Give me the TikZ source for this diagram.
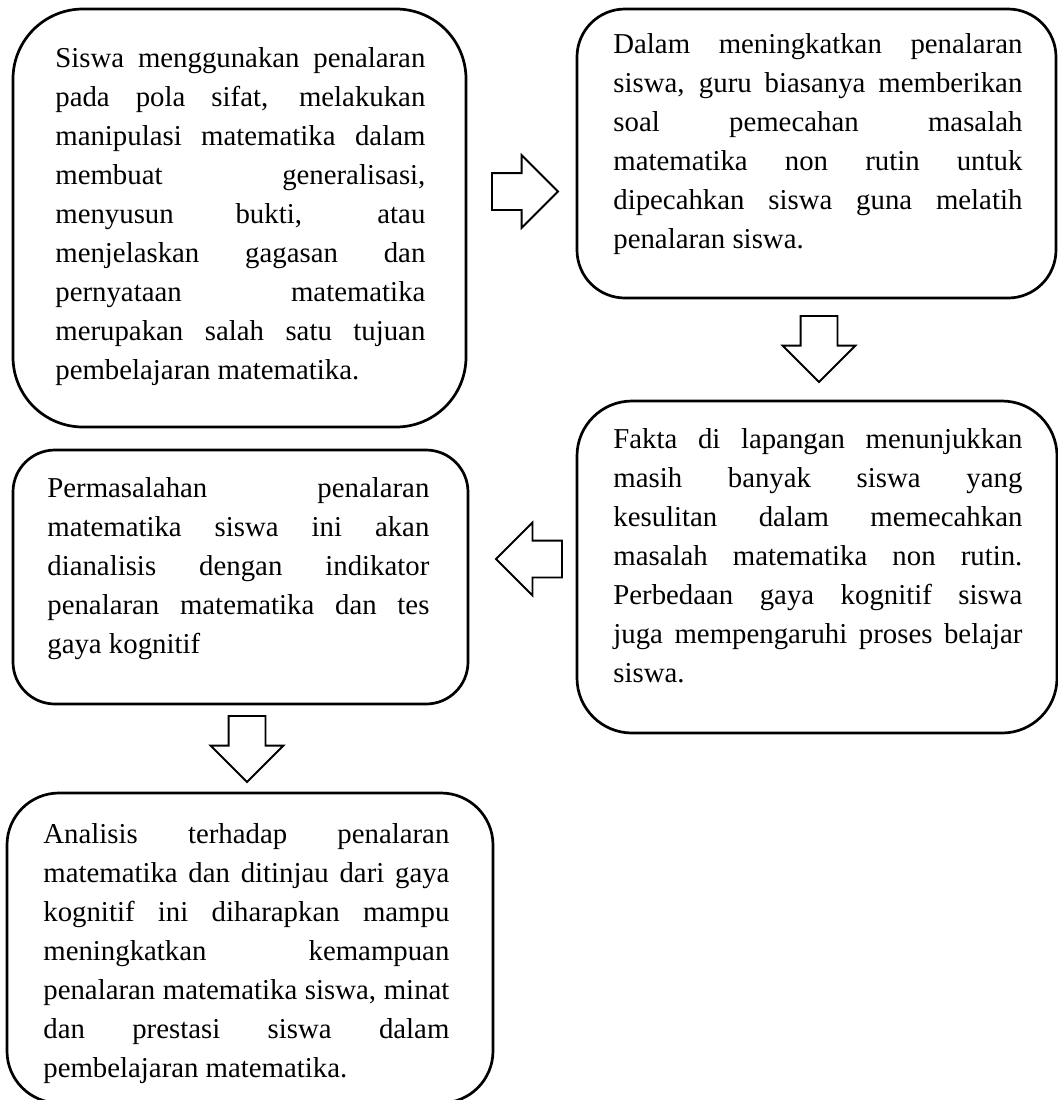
\documentclass[tikz,border=0pt]{standalone}
\usepackage{fontspec}
\setmainfont{Liberation Serif}
\usetikzlibrary{shapes.arrows}
\definecolor{Ink}{HTML}{000000}
\tolerance=10000
\hbadness=10000
\hyphenpenalty=10000

\begin{document}
\begin{tikzpicture}[x=0.5pt,y=-0.5pt,
  panel/.style={draw=Ink,line width=1.35pt,inner sep=0pt},
  txt/.style={anchor=base west,inner sep=0pt,align=justify,text=Ink,
    font=\fontsize{14.4pt}{19.5pt}\selectfont},
  blockarrow/.style={single arrow,draw=Ink,line width=0.9pt,fill=white,
    inner xsep=0pt,inner ysep=8.75pt,minimum height=33pt,minimum width=35.5pt,
    single arrow head extend=9pt,outer sep=0pt,anchor=tip}]
\useasboundingbox (0,0) rectangle (1058,1100);
% boxes
\node[panel,rounded corners=35pt,minimum width=226.5pt,minimum height=209pt] (b1) at (239.5,218) {};
\node[panel,rounded corners=24pt,minimum width=239.5pt,minimum height=144.5pt] (b2) at (816.5,153.5) {};
\node[panel,rounded corners=27.5pt,minimum width=240pt,minimum height=166pt] (b3) at (817,567) {};
\node[panel,rounded corners=21pt,minimum width=227.5pt,minimum height=127pt] (b4) at (240.5,577) {};
\node[panel,rounded corners=26pt,minimum width=243pt,minimum height=155pt] (b5) at (250,948) {};
% texts
\node[txt,text width=185pt] (t1) at (55,67) {Siswa menggunakan penalaran\linebreak
pada pola sifat, melakukan\linebreak
manipulasi matematika dalam\linebreak
membuat generalisasi,\linebreak
menyusun bukti, atau\linebreak
menjelaskan gagasan dan\linebreak
pernyataan matematika\linebreak
merupakan salah satu tujuan\linebreak
pembelajaran matematika.};
\node[txt,text width=204.5pt] (t2) at (613,53) {Dalam meningkatkan penalaran\linebreak
siswa, guru biasanya memberikan\linebreak
soal pemecahan masalah\linebreak
matematika non rutin untuk\linebreak
dipecahkan siswa guna melatih\linebreak
penalaran siswa.};
\node[txt,text width=204.5pt] (t3) at (613,448) {Fakta di lapangan menunjukkan\linebreak
masih banyak siswa yang\linebreak
kesulitan dalam memecahkan\linebreak
masalah matematika non rutin.\linebreak
Perbedaan gaya kognitif siswa\linebreak
juga mempengaruhi proses belajar\linebreak
siswa.};
\node[txt,text width=191pt] (t4) at (47,497) {Permasalahan penalaran\linebreak
matematika siswa ini akan\linebreak
dianalisis dengan indikator\linebreak
penalaran matematika dan tes\linebreak
gaya kognitif};
\node[txt,text width=203pt] (t5) at (43,843) {Analisis terhadap penalaran\linebreak
matematika dan ditinjau dari gaya\linebreak
kognitif ini diharapkan mampu\linebreak
meningkatkan kemampuan\linebreak
penalaran matematika siswa, minat\linebreak
dan prestasi siswa dalam\linebreak
pembelajaran matematika.};
% block arrows
\node[blockarrow] (a12) at (558,191.5) {};
\node[blockarrow,rotate=-90] (a23) at (819,382) {};
\node[blockarrow,rotate=180] (a34) at (496,559) {};
\node[blockarrow,rotate=-90] (a45) at (247,782) {};
\end{tikzpicture}
\end{document}
